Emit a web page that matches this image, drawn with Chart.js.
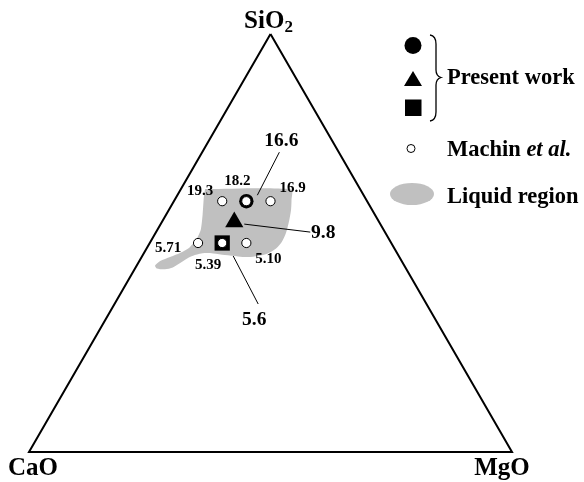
<!DOCTYPE html>
<html><head><meta charset="utf-8">
<script src="https://cdn.jsdelivr.net/npm/chart.js@4/dist/chart.umd.min.js"></script>
<style>html,body{margin:0;padding:0;background:#fff;}#wrap{width:584px;height:482px;}</style>
</head><body><div id="wrap"><canvas id="c" width="584" height="482"></canvas></div>
<script>
// ---- data: compositions as [SiO2, CaO, MgO] fractions ----
const cornerNames = ['SiO2', 'CaO', 'MgO'];
const frameCorners = [[1,0,0],[0,1,0],[0,0,1],[1,0,0]];
const machinComp = [[0.60,0.30,0.10],[0.60,0.25,0.15],[0.60,0.20,0.20],[0.50,0.40,0.10],[0.50,0.35,0.15],[0.50,0.30,0.20]];
const machinValues = ['19.3','18.2','16.9','5.71','5.39','5.10'];
const presentComp = [[0.60,0.25,0.15],[0.55,0.30,0.15],[0.50,0.35,0.15]];
const presentValues = ['16.6','9.8','5.6'];
const liquidRegion = [
  [0.629,0.321,0.050],[0.628,0.143,0.229],[0.603,0.155,0.242],[0.579,0.168,0.253],
  [0.550,0.187,0.263],[0.524,0.206,0.270],[0.502,0.226,0.272],[0.487,0.245,0.268],
  [0.475,0.268,0.257],[0.469,0.291,0.240],[0.466,0.313,0.220],[0.468,0.333,0.199],
  [0.471,0.359,0.170],[0.475,0.381,0.144],[0.476,0.398,0.126],[0.471,0.421,0.108],
  [0.463,0.441,0.096],[0.452,0.461,0.087],[0.441,0.481,0.077],[0.437,0.500,0.063],
  [0.439,0.516,0.045],[0.446,0.516,0.038],[0.457,0.500,0.043],[0.467,0.475,0.059],
  [0.479,0.444,0.078],[0.490,0.422,0.088],[0.510,0.398,0.092],[0.531,0.379,0.090],
  [0.569,0.356,0.075],[0.610,0.333,0.057],[0.629,0.321,0.050]
];
const legendLabels = ['Present work', 'Machin ', 'et al.', 'Liquid region'];

// ---- layout / styling ----
const SERIF = '"Liberation Serif","Times New Roman",serif';
const machinLabelOffsets = [[-22,-10],[-9,-20],[22,-13],[-30,5],[-14,22],[22,16]];
const presentLabelOffsets = [[35,-60],[89,11],[32,77]];
const presentLeaders = [[11,-6,33,-49],[10,2,76,10],[11,13,36,61]];

function toXY(c) {
  const sum = c[0] + c[1] + c[2];
  const s = c[0] / sum, m = c[2] / sum;
  return {x: m + s / 2, y: s};
}

const annot = {
  id: 'annot',
  afterDatasetsDraw(chart) {
    const ctx = chart.ctx;
    const xs = chart.scales.x, ys = chart.scales.y;
    ctx.save();
    ctx.fillStyle = '#000';
    ctx.strokeStyle = '#000';
    // corner labels
    const corners = [[1,0,0],[0,1,0],[0,0,1]];
    const cp = corners.map(c => { const p = toXY(c); return {x: xs.getPixelForValue(p.x), y: ys.getPixelForValue(p.y)}; });
    ctx.font = 'bold 25px ' + SERIF;
    ctx.textBaseline = 'alphabetic';
    ctx.textAlign = 'center';
    const w1 = ctx.measureText('SiO').width;
    ctx.font = 'bold 17px ' + SERIF;
    const w2 = ctx.measureText('2').width;
    let sx = cp[0].x - 2 - (w1 + w2) / 2;
    ctx.textAlign = 'left';
    ctx.font = 'bold 25px ' + SERIF;
    ctx.fillText('SiO', sx, cp[0].y - 6);
    ctx.font = 'bold 17px ' + SERIF;
    ctx.fillText('2', sx + w1, cp[0].y - 2);
    ctx.font = 'bold 25px ' + SERIF;
    ctx.textAlign = 'center';
    ctx.fillText('CaO', cp[1].x + 4, cp[1].y + 23);
    ctx.fillText('MgO', cp[2].x - 10, cp[2].y + 23);

    // data labels
    const mm = chart.getDatasetMeta(0).data;
    ctx.textBaseline = 'middle';
    ctx.font = 'bold 15px ' + SERIF;
    mm.forEach((pt, i) => {
      ctx.fillText(machinValues[i], pt.x + machinLabelOffsets[i][0], pt.y + machinLabelOffsets[i][1]);
    });
    const pm = chart.getDatasetMeta(1).data;
    ctx.font = 'bold 19.5px ' + SERIF;
    ctx.lineWidth = 1;
    pm.forEach((pt, i) => {
      const L = presentLeaders[i];
      ctx.beginPath();
      ctx.moveTo(pt.x + L[0], pt.y + L[1]);
      ctx.lineTo(pt.x + L[2], pt.y + L[3]);
      ctx.stroke();
      ctx.fillText(presentValues[i], pt.x + presentLabelOffsets[i][0], pt.y + presentLabelOffsets[i][1]);
    });

    // legend
    ctx.fillStyle = '#000';
    ctx.beginPath(); ctx.arc(413, 45.5, 8.5, 0, Math.PI * 2); ctx.fill();
    ctx.beginPath(); ctx.moveTo(413, 71); ctx.lineTo(404, 86); ctx.lineTo(422, 86); ctx.closePath(); ctx.fill();
    ctx.fillRect(405, 99.5, 16.5, 16.5);
    // brace
    ctx.lineWidth = 1.3;
    ctx.beginPath();
    ctx.moveTo(430, 35);
    ctx.quadraticCurveTo(436, 36, 436, 44);
    ctx.lineTo(436, 70);
    ctx.quadraticCurveTo(436, 76, 441, 77.5);
    ctx.quadraticCurveTo(436, 79, 436, 85);
    ctx.lineTo(436, 112);
    ctx.quadraticCurveTo(436, 120, 430, 121);
    ctx.stroke();
    // machin symbol
    ctx.beginPath(); ctx.arc(411, 148.5, 4, 0, Math.PI * 2);
    ctx.fillStyle = '#fff'; ctx.fill(); ctx.lineWidth = 1; ctx.stroke();
    // liquid ellipse
    ctx.beginPath(); ctx.ellipse(412, 194, 22, 11, 0, 0, Math.PI * 2);
    ctx.fillStyle = '#c0c0c0'; ctx.fill();
    // legend text
    ctx.fillStyle = '#000';
    ctx.textAlign = 'left';
    ctx.textBaseline = 'alphabetic';
    ctx.font = 'bold 22.5px ' + SERIF;
    ctx.fillText(legendLabels[0], 447, 84);
    ctx.fillText(legendLabels[1], 447, 156);
    const mw = ctx.measureText(legendLabels[1]).width;
    ctx.font = 'italic bold 22.5px ' + SERIF;
    ctx.fillText(legendLabels[2], 447 + mw, 156);
    ctx.font = 'bold 22.5px ' + SERIF;
    ctx.fillText(legendLabels[3], 447, 203);
    ctx.restore();
  }
};

new Chart(document.getElementById('c'), {
  type: 'scatter',
  data: {
    datasets: [
      { label: 'Machin et al.', data: machinComp.map(toXY), pointStyle: 'circle', pointRadius: 4.6,
        backgroundColor: '#fff', borderColor: '#000', borderWidth: 1, clip: false },
      { label: 'Present work', data: presentComp.map(toXY), pointStyle: ['circle','triangle','rect'],
        pointRadius: [7.2, 10.5, 10.8], backgroundColor: '#000', borderColor: '#000', borderWidth: 0, clip: false },
      { label: 'Liquid region', data: liquidRegion.map(toXY), showLine: true, tension: 0.25, pointRadius: 0,
        borderWidth: 0, borderColor: 'rgba(0,0,0,0)', backgroundColor: '#c0c0c0', fill: 'shape', clip: false },
      { label: 'frame', data: frameCorners.map(toXY), showLine: true, tension: 0, pointRadius: 0,
        borderWidth: 2, borderColor: '#000', borderJoinStyle: 'miter', fill: false, clip: false }
    ]
  },
  options: {
    responsive: false,
    animation: false,
    events: [],
    layout: { padding: { left: 29, right: 72, top: 34, bottom: 30 } },
    scales: {
      x: { type: 'linear', min: 0, max: 1, display: false },
      y: { type: 'linear', min: 0, max: 1, display: false }
    },
    plugins: { legend: { display: false }, tooltip: { enabled: false } }
  },
  plugins: [annot]
});
</script></body></html>
